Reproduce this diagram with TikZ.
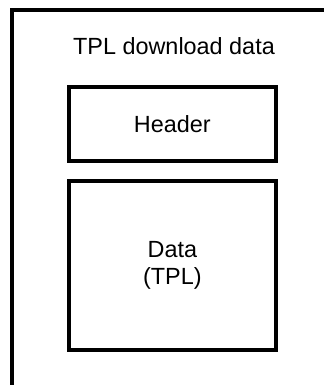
\documentclass[tikz,border=0pt]{standalone}
\usepackage{fontspec}
\setmainfont{Liberation Sans}
\usepackage{tikz}
\usetikzlibrary{positioning}
\tikzset{
  framebox/.style={draw,line width=4pt,rectangle,minimum width=207.3pt,
    align=center,font=\fontsize{23.4}{27}\selectfont}
}

\begin{document}
\begin{tikzpicture}[x=1pt,y=-1pt]
  \useasboundingbox (0,0) rectangle (324,385);
  % outer frame, open to the right and bottom
  \coordinate (framelow) at (12,385);
  \coordinate (framecorner) at (12,10.5);
  \coordinate (frameright) at (324,10.5);
  \draw[line width=4pt] (framelow) -- (framecorner) -- (frameright);
  \node[anchor=base,font=\fontsize{23.4}{27}\selectfont] (title) at (174,55) {TPL download data};
  \node[framebox,minimum height=74.3pt] (header) at (172.35,123.85) {Header};
  \node[framebox,minimum height=169pt] (tpldata) at (172.35,265.5) {Data\\(TPL)};
\end{tikzpicture}
\end{document}
